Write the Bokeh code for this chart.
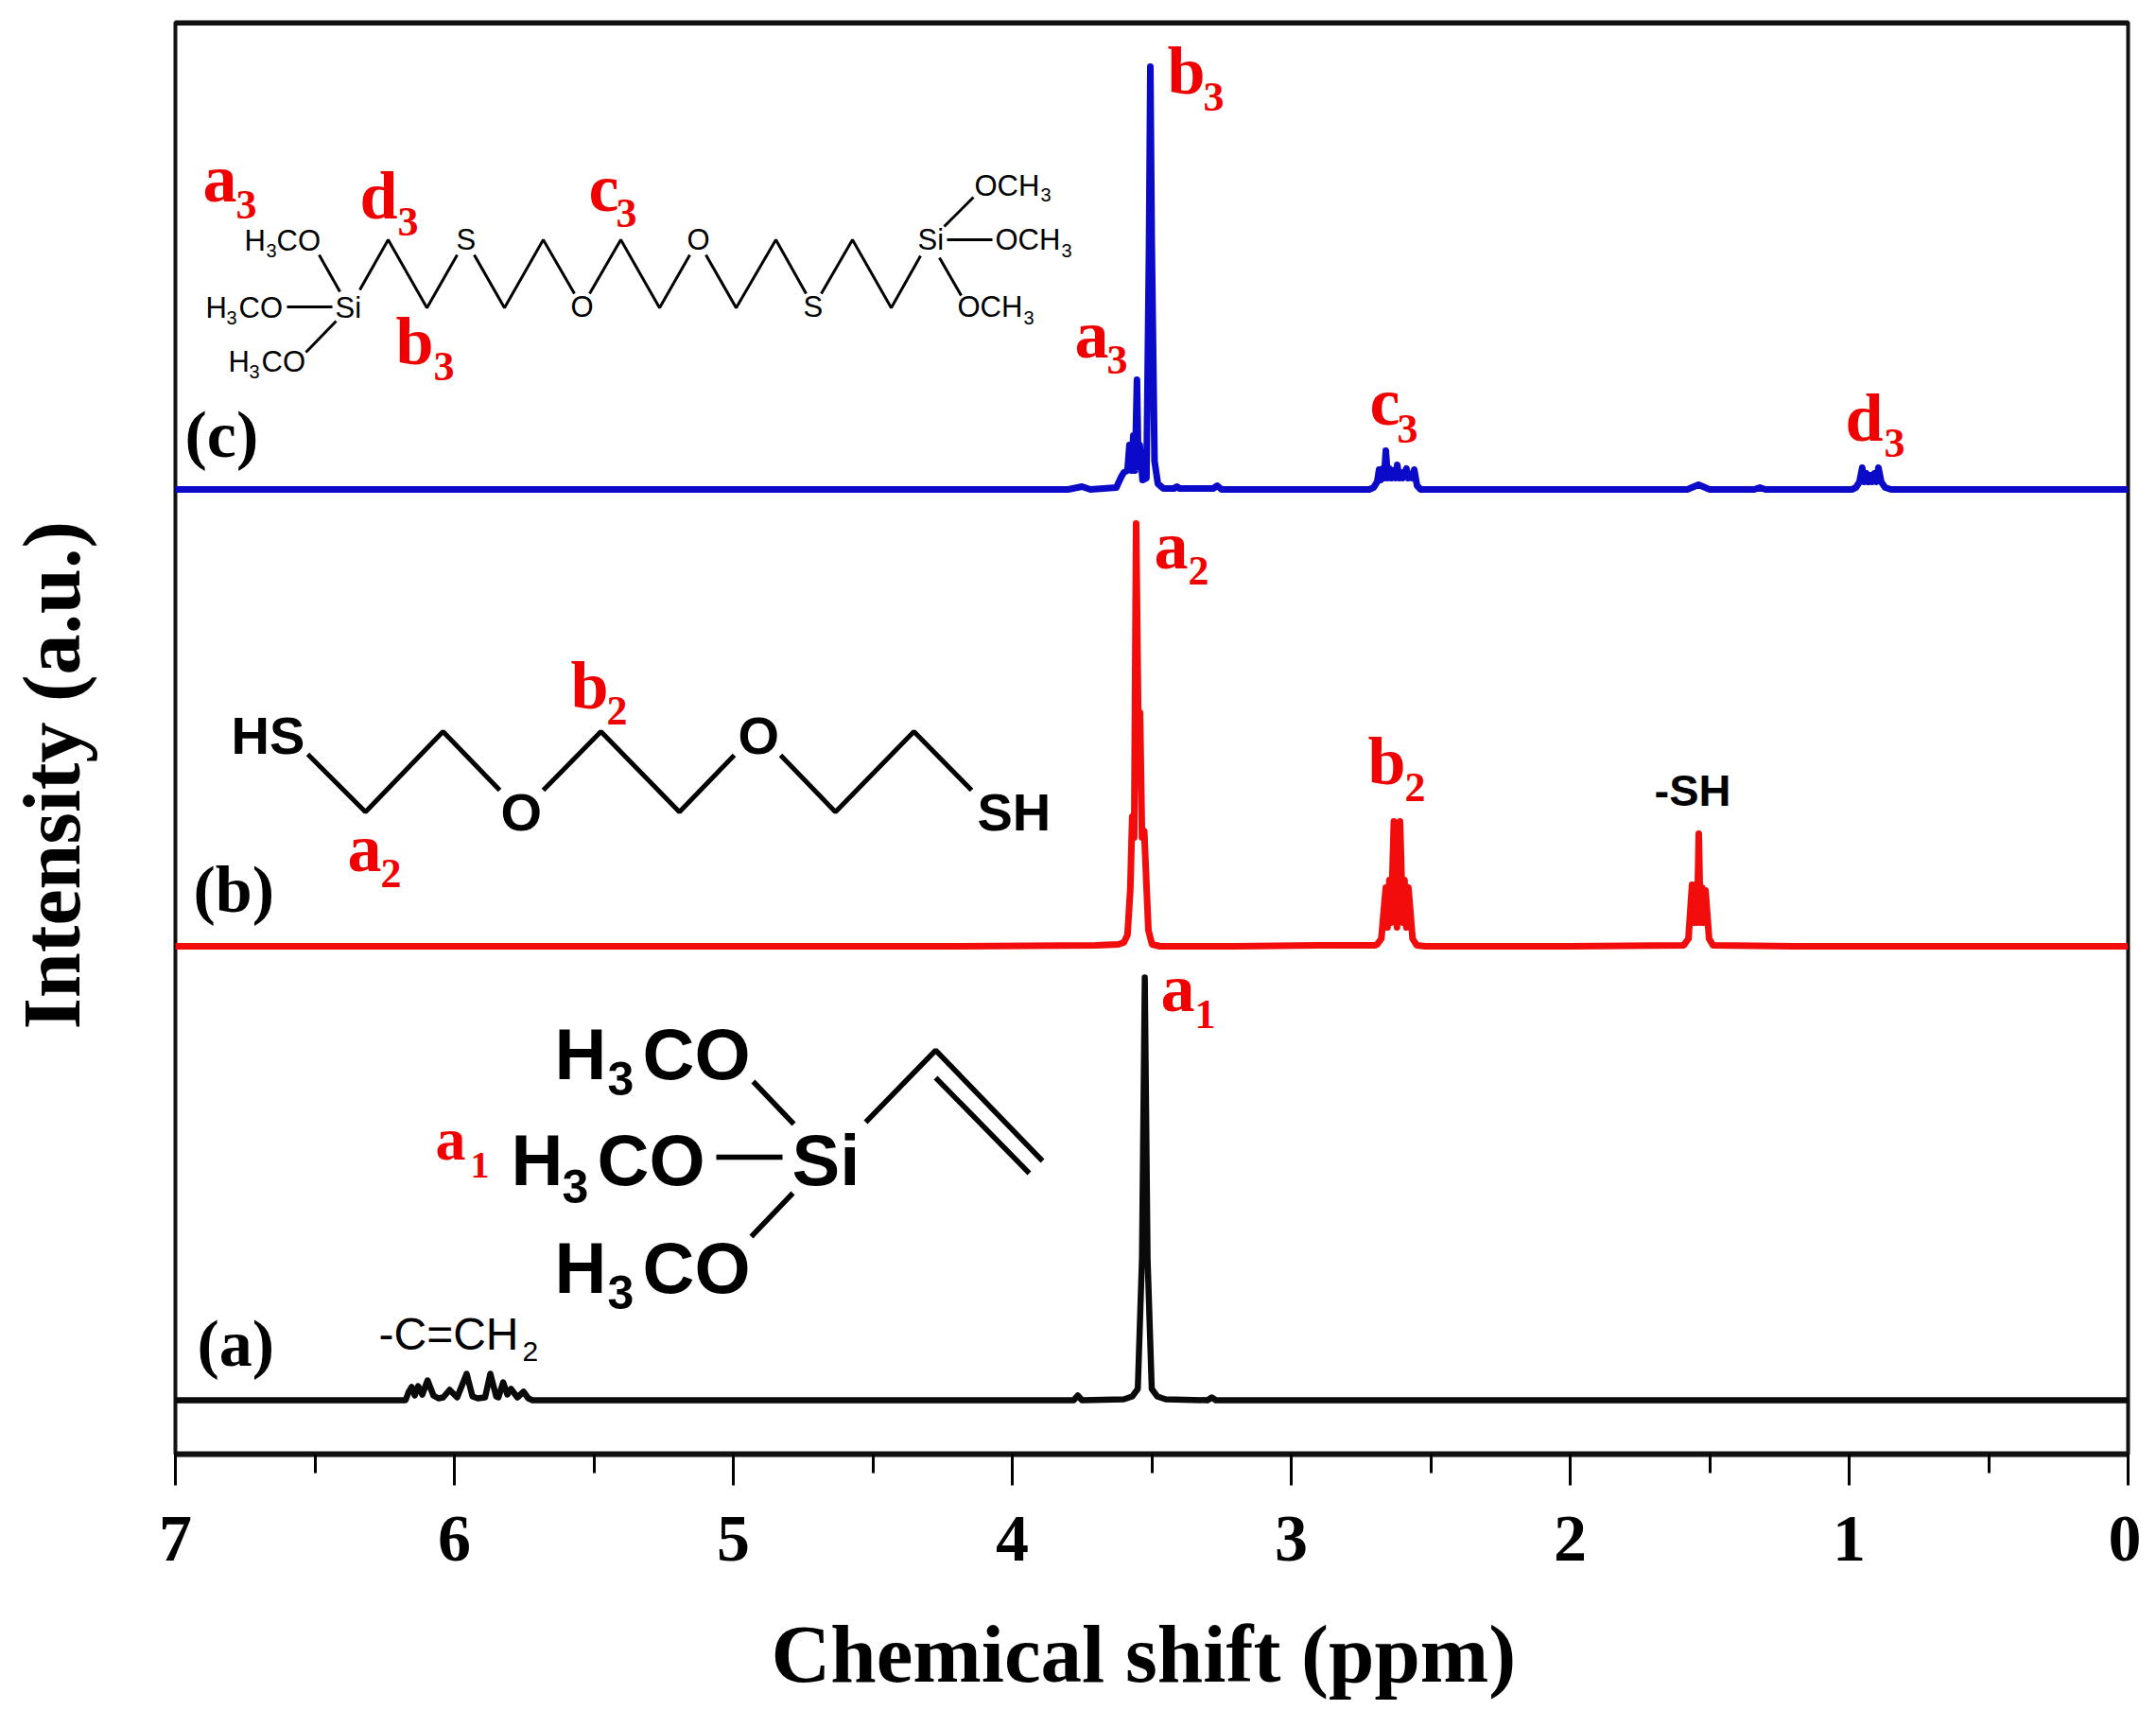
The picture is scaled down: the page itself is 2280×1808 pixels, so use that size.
from bokeh.core.properties import value
from bokeh.embed import file_html
from bokeh.models import FixedTicker, LinearAxis, Range1d, Span, Title
from bokeh.plotting import figure
from bokeh.resources import INLINE

# x tick values
x_ticks = [7, 6, 5, 4, 3, 2, 1, 0]
x_minor = [6.5, 5.5, 4.5, 3.5, 2.5, 1.5, 0.5]

# spectra: shift in ppm, height above own baseline
black_base = 57
black_ppm = [7.0, 6.175, 6.165, 6.153, 6.142, 6.13, 6.115, 6.096, 6.075, 6.057, 6.04, 6.017, 5.99, 5.956, 5.935,
             5.916, 5.89, 5.871, 5.85, 5.842, 5.825, 5.81, 5.797, 5.774, 5.752, 5.735, 5.72,
             4.6, 3.78, 3.765, 3.75, 3.6, 3.57, 3.55, 3.535, 3.525, 3.515, 3.5, 3.48, 3.45, 3.3, 3.285, 3.27, 1.2, 0.0]
black_int = [0, 0, 8, 14, 5, 15, 6, 21, 5, 2, 3, 11, 3, 28, 4,
             2, 3, 28, 4, 3, 19, 6, 12, 3, 9, 2, 0,
             0, 0, 5, 0, 1, 4, 12, 150, 447, 150, 12, 4, 1, 0, 3, 0, 0, 0]

red_base = 537
red_ppm = [7.0, 5.0, 4.2, 3.7, 3.62, 3.6, 3.587, 3.577, 3.57, 3.563, 3.556, 3.547, 3.542, 3.535, 3.527, 3.519, 3.512,
           3.499, 3.47, 3.2, 2.9, 2.76, 2.7, 2.692, 2.677, 2.661, 2.655, 2.648, 2.642, 2.632, 2.621, 2.61, 2.6,
           2.594, 2.587, 2.58, 2.565, 2.55, 2.52, 2.3, 2.0, 1.593, 1.576, 1.563, 1.557, 1.551, 1.545, 1.539,
           1.533, 1.527, 1.521, 1.515, 1.502, 1.488, 1.2, 0.0]
red_int = [0, 0, 0, 1, 2, 4, 12, 60, 137, 115, 447, 200, 247, 115, 122, 65, 17,
           2, 0, 0, 1, 1, 1, 2, 8, 62, 20, 70, 25, 132, 20, 132, 25,
           70, 20, 62, 8, 1, 0, 0, 0, 1, 8, 65, 25, 65, 25, 119,
           25, 62, 25, 59, 8, 1, 0, 0]

blue_base = 1020
blue_ppm = [7.0, 5.0, 3.8, 3.75, 3.72, 3.627, 3.61, 3.6, 3.587, 3.58, 3.573, 3.566, 3.56, 3.553, 3.548, 3.543, 3.533,
            3.519, 3.51, 3.505, 3.5, 3.49, 3.478, 3.458, 3.42, 3.41, 3.4, 3.28, 3.265, 3.25, 2.72, 2.705, 2.692, 2.685,
            2.679, 2.672, 2.667, 2.661, 2.654, 2.647, 2.64, 2.634, 2.627, 2.62, 2.613, 2.607, 2.6, 2.593, 2.587, 2.58,
            2.573, 2.566, 2.559, 2.549, 2.536, 1.58, 1.54, 1.5, 1.34, 1.32, 1.3,
            0.99, 0.976, 0.963, 0.953, 0.946, 0.938, 0.93, 0.924, 0.917, 0.91, 0.903, 0.895, 0.885, 0.871, 0.85, 0.0]
blue_int = [0, 0, 0, 3, 0, 2, 13, 18, 20, 47, 20, 57, 20, 116, 25, 47, 10,
            12, 250, 447, 260, 30, 6, 1, 1, 3, 1, 1, 4, 0, 0, 2, 8, 21,
            10, 22, 12, 41, 12, 22, 12, 20, 12, 26, 12, 18, 12, 18, 22, 12,
            16, 12, 21, 4, 0, 0, 5, 0, 0, 2, 0,
            0, 2, 8, 23, 8, 17, 8, 15, 8, 17, 8, 23, 8, 2, 0, 0]

# red peak labels: base, subscript, left, baseline, sub left, sub baseline
peak_labels = [
    ("a", "3", 214, 214, 249, 232), ("d", "3", 380, 232, 420, 250), ("c", "3", 622, 224, 651, 241),
    ("b", "3", 418, 386, 458, 403), ("b", "3", 1234, 100, 1272, 118), ("a", "3", 1136, 379, 1170, 396),
    ("c", "3", 1448, 450, 1477, 469), ("d", "3", 1951, 467, 1992, 484), ("a", "2", 367, 922, 402, 939),
    ("b", "2", 603, 750, 641, 767), ("a", "2", 1220, 602, 1256, 619), ("b", "2", 1446, 830, 1485, 848),
    ("a", "1", 1227, 1070, 1263, 1088),
]
panel_labels = [("(c)", 195, 484), ("(b)", 204, 965), ("(a)", 208, 1445)]

# molecule drawings, in picture pixels
bonds_c = [
    [(380, 306), (410, 253), (451, 325), (483, 269)], [(501, 269), (533, 325), (574, 253), (607, 310)],
    [(623, 310), (656, 253), (697, 325), (729, 269)], [(746, 269), (778, 325), (820, 253), (852, 310)],
    [(868, 310), (901, 253), (942, 325), (973, 270)], [(337, 269), (359, 308)], [(303, 324), (351, 324)],
    [(323, 372), (355, 339)], [(998, 239), (1029, 208)], [(1001, 253), (1049, 253)], [(993, 272), (1016, 312)],
]
bonds_b = [
    [(325, 797), (386, 858), (468, 773), (528, 835)], [(574, 835), (635, 773), (718, 858), (776, 798)],
    [(825, 798), (883, 858), (966, 773), (1027, 835)],
]
bonds_a = [
    [(796, 1143), (839, 1188)], [(757, 1223), (827, 1223)], [(838, 1261), (794, 1307)],
    [(915, 1186), (989, 1110), (1102, 1227)], [(989, 1139), (1088, 1240)],
]
# text, left, baseline
atoms_c = [("H", 258, 265), ("CO", 292, 265), ("H", 217, 336), ("CO", 252, 336), ("H", 241, 393), ("CO", 276, 393),
           ("OCH", 1030, 207), ("OCH", 1052, 264), ("OCH", 1012, 335), ("Si", 354, 336), ("Si", 970, 264),
           ("S", 482, 264), ("O", 726, 264), ("S", 849, 335), ("O", 603, 335)]
atoms_c_sub = [("3", 281, 272), ("3", 239, 343), ("3", 263, 400), ("3", 1100, 213), ("3", 1122, 272), ("3", 1082, 343)]
atoms_b = [("HS", 244, 797), ("O", 529, 878), ("O", 780, 797), ("SH", 1033, 878)]
atoms_a = [("H", 586, 1141), ("CO", 679, 1141), ("H", 540, 1253), ("CO", 631, 1253), ("H", 586, 1367),
           ("CO", 679, 1367), ("Si", 837, 1253)]
atoms_a_sub = [("3", 642, 1158), ("3", 594, 1272), ("3", 642, 1384)]

LEFT, RIGHT, TOP, BOTTOM = 185, 2250, 23, 1537
SERIF = "Liberation Serif"
SANS = "Liberation Sans"


def to_x(px):
    return 7 * (RIGHT - px) / (RIGHT - LEFT)


def to_y(py):
    return BOTTOM - py


p = figure(width=2264, height=1792, frame_width=RIGHT - LEFT, frame_height=BOTTOM - TOP,
           min_border_left=LEFT, min_border_right=14, min_border_top=TOP, min_border_bottom=248,
           x_range=Range1d(7, 0), y_range=Range1d(0, BOTTOM - TOP),
           toolbar_location=None, output_backend="svg")
p.grid.grid_line_color = None
p.outline_line_color = "#111111"
p.outline_line_width = 4

p.xaxis.ticker = FixedTicker(ticks=x_ticks, minor_ticks=x_minor)
p.xaxis.axis_line_width = 6
p.xaxis.axis_line_color = "#111111"
p.xaxis.major_tick_in = 0
p.xaxis.major_tick_out = 33
p.xaxis.major_tick_line_width = 3
p.xaxis.minor_tick_in = 0
p.xaxis.minor_tick_out = 20
p.xaxis.minor_tick_line_width = 3
p.xaxis.major_label_text_font = SERIF
p.xaxis.major_label_text_font_style = "bold"
p.xaxis.major_label_text_font_size = "70px"
p.xaxis.major_label_text_color = "black"
p.xaxis.major_label_standoff = 33

# unmarked axes only hold the titles away from the frame
p.yaxis.ticker = FixedTicker(ticks=[700])
p.yaxis.major_label_overrides = {700: ""}
p.yaxis.axis_line_color = None
p.yaxis.major_tick_line_color = None
p.yaxis.minor_tick_line_color = None
p.yaxis.major_label_text_font_size = "0px"
p.yaxis.major_label_standoff = 0
p.yaxis.major_tick_in = 0
p.yaxis.major_tick_out = 82
spacer = LinearAxis(ticker=FixedTicker(ticks=[3.5]), major_label_overrides={3.5: ""}, axis_line_color=None,
                    major_tick_line_color=None, minor_tick_line_color=None, major_label_text_font_size="0px",
                    major_label_standoff=0, major_tick_in=0, major_tick_out=44)
p.add_layout(spacer, "below")

p.add_layout(Title(text="Intensity (a.u.)", align="left", offset=449, standoff=2, text_font=SERIF,
                   text_font_style="bold", text_font_size="86px", text_color="black"), "left")
p.add_layout(Title(text="Chemical shift (ppm)", align="left", offset=630, standoff=2, text_font=SERIF,
                   text_font_style="bold", text_font_size="87px", text_color="black"), "below")

p.add_layout(Span(location=BOTTOM - TOP, dimension="width", line_color="#111111", line_width=7))

for ppm, vals, base, col, lw in [(black_ppm, black_int, black_base, "#0a0a0a", 6.5),
                                 (red_ppm, red_int, red_base, "#f20c0c", 7),
                                 (blue_ppm, blue_int, blue_base, "#0a0ac8", 7)]:
    p.line(ppm, [v + base for v in vals], line_color=col, line_width=lw, line_join="round")


def bonds(chains, width):
    for chain in chains:
        p.line([to_x(c[0]) for c in chain], [to_y(c[1]) for c in chain], line_color="black", line_width=width)


def texts(items, font, size, color="black", style="normal"):
    # alphabetic text lands about 0.36 of the size too low in the svg output
    p.text([to_x(t[1]) for t in items], [to_y(t[2] - 0.36 * size) for t in items], text=[t[0] for t in items],
           text_font=value(font), text_font_size=f"{size}px", text_font_style=style, text_color=color,
           text_baseline="alphabetic", text_align="left")


bonds(bonds_c, 3)
bonds(bonds_b, 5)
bonds(bonds_a, 5.5)
texts(atoms_c, SANS, 31)
texts(atoms_c_sub, SANS, 20)
texts(atoms_b, SANS, 56, style="bold")
texts(atoms_a, SANS, 76, style="bold")
texts(atoms_a_sub, SANS, 50, style="bold")

texts([(x[0], x[2], x[3]) for x in peak_labels], SERIF, 72, "#f00000", "bold")
texts([(x[1], x[4], x[5]) for x in peak_labels], SERIF, 44, "#f00000", "bold")
texts([("a", 460, 1227)], SERIF, 64, "#f00000", "bold")
texts([("1", 497, 1246)], SERIF, 40, "#f00000", "bold")

texts(panel_labels, SERIF, 70, style="bold")
texts([("-SH", 1749, 852)], SANS, 47, style="bold")
texts([("-C=CH", 400, 1427)], SANS, 48)
texts([("2", 552, 1439)], SANS, 30)

open("out.html", "w").write(file_html(p, INLINE))
